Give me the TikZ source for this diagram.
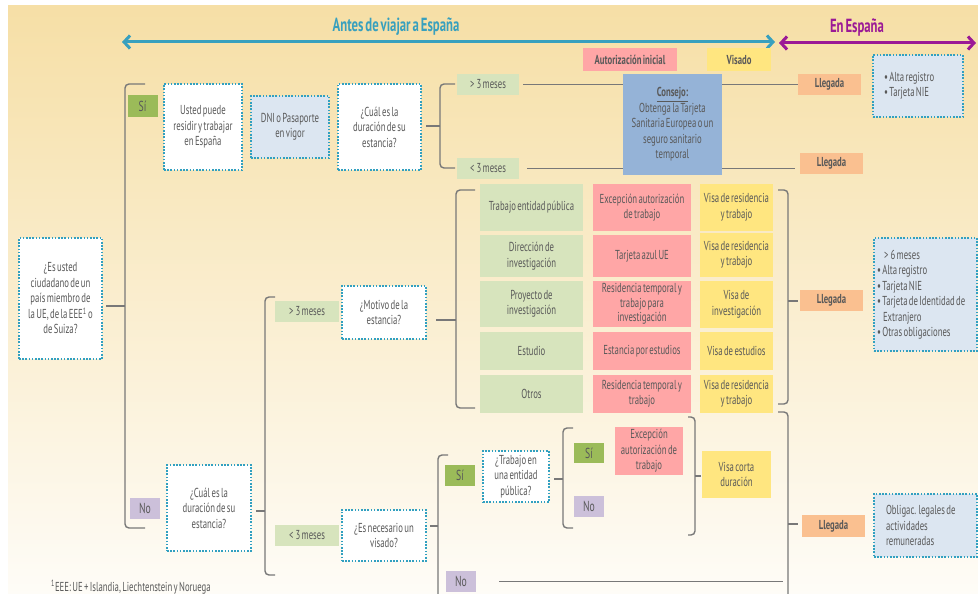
\documentclass[tikz,border=0pt]{standalone}
\usepackage{fontspec}
\setmainfont{PT Sans}[FakeStretch=0.67,WordSpace=0.6]
\usetikzlibrary{arrows.meta}

\definecolor{txt}{RGB}{89,89,89}
\definecolor{dots}{RGB}{49,160,192}
\definecolor{bgtop}{RGB}{246,223,166}
\definecolor{bgmid}{RGB}{252,243,222}
\definecolor{bgbot}{RGB}{254,252,247}
\definecolor{optgreen}{RGB}{215,228,189}
\definecolor{sigreen}{RGB}{155,187,89}
\definecolor{nolila}{RGB}{204,192,218}
\definecolor{autpink}{RGB}{255,166,166}
\definecolor{visayel}{RGB}{255,230,128}
\definecolor{llegorange}{RGB}{250,192,144}
\definecolor{infoblue}{RGB}{220,230,241}
\definecolor{consejoblue}{RGB}{149,179,215}
\definecolor{antesteal}{RGB}{56,160,190}
\definecolor{espurple}{RGB}{155,25,150}
\definecolor{brkgray}{RGB}{120,120,120}

\begin{document}
\begin{tikzpicture}[x=1pt,y=-1pt,
  every node/.style={font=\fontsize{13}{15.5}\selectfont, text=txt, align=center, inner sep=0pt},
  sz/.style 2 args={minimum width=#1, minimum height=#2},
  pregunta/.style={fill=white, draw=dots, line width=1.6pt, dash pattern=on 1.6pt off 1.6pt},
  info/.style={pregunta, fill=infoblue, align=left, execute at begin node={\spaceskip=0pt\xspaceskip=0pt\relax}},
  opcion/.style={fill=optgreen},
  si/.style={fill=sigreen, sz={30}{21}, font=\fontsize{14.5}{15.5}\selectfont},
  no/.style={fill=nolila, sz={30}{21}, font=\fontsize{14.5}{15.5}\selectfont},
  autoriz/.style={fill=autpink},
  visa/.style={fill=visayel},
  llegada/.style={fill=llegorange, font=\fontsize{13}{15.5}\selectfont\bfseries, sz={63}{21}},
  cabecera/.style={font=\fontsize{13}{15.5}\selectfont\bfseries, sz={#1}{23}},
  titulo/.style={font=\fontsize{19}{20}\selectfont\bfseries},
  brk/.style={draw=brkgray, line width=1.4pt, rounded corners=4pt},
  linea/.style={draw=brkgray, line width=1.8pt},
  flecha/.style={line width=3pt, {Straight Barb[length=6pt,width=13pt]}-{Straight Barb[length=6pt,width=13pt]}},
]
\useasboundingbox (0,0) rectangle (978,594);
\clip (0,0) rectangle (978,594);

% background
\fill[white] (0,0) rectangle (978,594);
\shade[top color=bgtop, middle color=bgmid, bottom color=bgbot] (8,6) rectangle (978,594);

% time line
\node[titulo, text=antesteal] (antes) at (396,27) {Antes de viajar a España};
\node[titulo, text=espurple] (enesp) at (857,28) {En España};
\coordinate (a0) at (122,42);
\coordinate (a1) at (775,42);
\coordinate (e0) at (779,43);
\coordinate (e1) at (976,43);
\draw[flecha, antesteal] (a0) -- (a1);
\draw[flecha, espurple] (e0) -- (e1);

\node[cabecera=94, fill=autpink] (hautoriz) at (630,59.5) {Autorización inicial};
\node[cabecera=64, fill=visayel] (hvisado) at (739,59.5) {Visado};

% first question
\node[pregunta, sz={83}{121}] (q0) at (60.5,298.5)
  {¿Es usted\\ ciudadano de un\\ país miembro de\\ la UE, de la EEE\textsuperscript{1} o\\ de Suiza?};

% Si: EU citizens
\node[si] (si0) at (142.5,106) {Sí};
\node[pregunta, sz={78}{86}] (q1) at (203,127) {Usted puede\\ residir y trabajar\\ en España};
\node[pregunta, fill=infoblue, sz={78}{62}] (dni) at (290,127) {DNI o Pasaporte\\ en vigor};
\node[pregunta, sz={83}{86}] (q2) at (379.5,127) {¿Cuál es la\\ duración de su\\ estancia?};
\node[opcion, sz={62}{21}] (o1) at (488,84.5) {>\,3 meses};
\node[opcion, sz={62}{21}] (o2) at (488,168.5) {<\,3 meses};
\node[llegada] (l1) at (829.5,84.5) {Llegada};
\node[llegada] (l2) at (831.5,163.5) {Llegada};
\draw[linea] ([xshift=4pt]o1.east) -- (l1.west);
\draw[linea] ([xshift=8pt]o2.east) -- ([xshift=-5pt]o2.east -| l2.west);
\node[fill=consejoblue, sz={99}{101}] (consejo) at (672.5,124.5)
  {\underline{\textbf{Consejo:}}\\ Obtenga la Tarjeta\\ Sanitaria Europea o un\\ seguro sanitario\\ temporal};
\node[info, inner xsep=11pt, text width=68pt, minimum height=62] (inf1) at (918,86)
  {\textbullet\ Alta registro\\ \textbullet\ Tarjeta NIE};

% No: other citizens
\node[no] (no0) at (145,508.5) {No};
\node[pregunta, sz={84}{86}] (q3) at (209,508) {¿Cuál es la\\ duración de su\\ estancia?};

% more than three months
\node[opcion, sz={64}{21}] (o3) at (307,311.5) {>\,3 meses};
\node[pregunta, sz={84}{53}] (q4) at (384,312.5) {¿Motivo de la\\ estancia?};

\node[opcion, sz={103}{47}] (tg1) at (531.5,207.5) {Trabajo entidad pública};
\node[opcion, sz={103}{42}] (tg2) at (531.5,256) {Dirección de\\ investigación};
\node[opcion, sz={103}{46}] (tg3) at (531.5,304) {Proyecto de\\ investigación};
\node[opcion, sz={103}{38}] (tg4) at (531.5,351) {Estudio};
\node[opcion, sz={103}{38}] (tg5) at (531.5,394) {Otros};

\node[autoriz, sz={98}{47}] (tp1) at (642,207.5) {Excepción autorización\\ de trabajo};
\node[autoriz, sz={98}{42}] (tp2) at (642,256) {Tarjeta azul UE};
\node[autoriz, sz={98}{46}, font=\fontsize{13}{14.5}\selectfont] (tp3) at (642,304) {Residencia temporal y\\ trabajo para\\ investigación};
\node[autoriz, sz={98}{38}] (tp4) at (642,351) {Estancia por estudios};
\node[autoriz, sz={98}{38}] (tp5) at (642,394) {Residencia temporal y\\ trabajo};

\node[visa, sz={73}{47}] (ty1) at (736.5,207.5) {Visa de residencia\\ y trabajo};
\node[visa, sz={73}{44}] (ty2) at (736.5,255) {Visa de residencia\\ y trabajo};
\node[visa, sz={73}{47}] (ty3) at (736.5,304.5) {Visa de\\ investigación};
\node[visa, sz={73}{38}] (ty4) at (736.5,351) {Visa de estudios};
\node[visa, sz={73}{38}] (ty5) at (736.5,394) {Visa de residencia\\ y trabajo};

\node[llegada] (l3) at (831.5,300.5) {Llegada};
\node[info, inner xsep=3pt, text width=97pt, minimum height=113] (inf2) at (925.5,294.5)
  {\hspace*{7pt}>\,6 meses\\ \textbullet\ Alta registro\\ \textbullet\ Tarjeta NIE\\
   \textbullet\ Tarjeta de Identidad de\\ \hspace*{6pt}Extranjero\\ \textbullet\ Otras obligaciones};

% less than three months
\node[opcion, sz={64}{21}] (o4) at (307,535.5) {<\,3 meses};
\node[pregunta, sz={84}{51}] (q5) at (384,535.5) {¿Es necesario un\\ visado?};
\node[si] (si1) at (460,475.5) {Sí};
\node[no] (no1) at (461,581.5) {No};
\node[pregunta, sz={66}{51}] (q6) at (516,476.5) {¿Trabajo en\\ una entidad\\ pública?};
\node[si, minimum height=20] (si2) at (589,453) {Sí};
\node[no] (no2) at (589,506.5) {No};
\node[autoriz, sz={68}{48}] (exc) at (649,451) {Excepción\\ autorización de\\ trabajo};
\node[visa, sz={69}{47}] (vcd) at (736.5,474.5) {Visa corta\\ duración};
\node[llegada, minimum height=22] (l4) at (833.5,526) {Llegada};
\node[info, inner xsep=12pt, text width=79pt, minimum height=63] (inf3) at (925.5,525.5)
  {Obligac. legales de\\ actividades\\ remuneradas};

% brackets
\coordinate (k0t) at (145,84);  \coordinate (k0b) at (145,528); \coordinate (k0m) at (125,306);
\draw[brk] (k0t) -| (k0m) |- (k0b);
\draw[brk] (k0m) -- ([xshift=3pt]q0.east |- k0m);

\coordinate (k1t) at (455,84);  \coordinate (k1b) at (455,168); \coordinate (k1m) at (440,126);
\draw[brk] (k1t) -| (k1m) |- (k1b);
\draw[brk] (k1m) -- ([xshift=4pt]q2.east |- k1m);

\coordinate (k2t) at (275,297); \coordinate (k2b) at (275,575); \coordinate (k2m) at (265,511);
\draw[brk] (k2t) -| (k2m) |- (k2b);
\draw[brk] (k2m) -- ([xshift=4pt]q3.east |- k2m);

\coordinate (k3t) at (475,190); \coordinate (k3b) at (475,408); \coordinate (k3m) at (456,320);
\draw[brk] (k3t) -| (k3m) |- (k3b);
\draw[brk] (k3m) -- ([xshift=9pt]q4.east |- k3m);

\coordinate (k4t) at (448,455); \coordinate (k4m) at (438,526);
\draw[brk] (k4t) -| (k4m) -- ++(0,80);
\draw[brk] (k4m) -- ([xshift=3pt]q5.east |- k4m);

\coordinate (k5t) at (573,428); \coordinate (k5b) at (573,528); \coordinate (k5m) at (563,479);
\draw[brk] (k5t) -| (k5m) |- (k5b);
\draw[brk] (k5m) -- ([xshift=4pt]q6.east |- k5m);

\coordinate (k6t) at (778,190); \coordinate (k6b) at (778,404); \coordinate (k6m) at (788,301);
\draw[brk] (k6t) -| (k6m) |- (k6b);
\draw[brk] (k6m) -- ([xshift=-2pt]l3.west |- k6m);

\coordinate (k7t) at (688,417); \coordinate (k7b) at (688,535); \coordinate (k7m) at (695,476);
\draw[brk] (k7t) -| (k7m) |- (k7b);
\draw[brk] (k7m) -- ([xshift=-1pt]vcd.west |- k7m);

\coordinate (k8t) at (778,412); \coordinate (k8m) at (788,524);
\draw[brk] (k8t) -| (k8m) -- ++(0,80);
\draw[brk] (k8m) -- ([xshift=-4pt]l4.west |- k8m);

\draw[linea] ([xshift=23pt]no1.east) -- ([xshift=-5pt]no1.east -| k8m);

% footnote
\node[anchor=west] (nota) at (51,587)
  {\textsuperscript{1}EEE: UE + Islandia, Liechtenstein y Noruega};
\end{tikzpicture}
\end{document}
